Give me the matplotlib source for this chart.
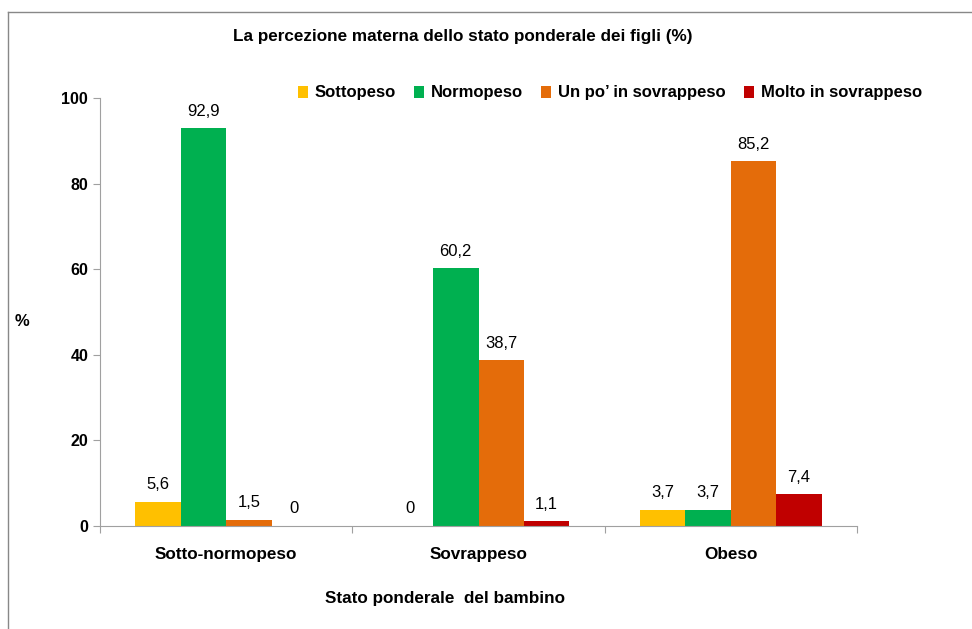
import numpy as np
import matplotlib.pyplot as plt
from matplotlib.lines import Line2D

plt.rcParams['font.family'] = ['Liberation Sans', 'DejaVu Sans']

categorie = ["Sotto-normopeso", "Sovrappeso", "Obeso"]
serie = ["Sottopeso", "Normopeso", "Un po\u2019 in sovrappeso", "Molto in sovrappeso"]
valori = [
    [5.6, 0, 3.7],
    [92.9, 60.2, 3.7],
    [1.5, 38.7, 85.2],
    [0, 1.1, 7.4],
]
colori = ["#FFC000", "#00B050", "#E46C0A", "#C00000"]

fig = plt.figure(figsize=(9.72, 6.29), dpi=100)
ax = fig.add_axes([100/972, 1-526/629, 757/972, 428/629])

x = np.arange(len(categorie))
w = 0.18
for i, (nome, vals, col) in enumerate(zip(serie, valori, colori)):
    pos = x + (i - 1.5) * w
    ax.bar(pos, vals, w, color=col, label=nome)
    for p, v in zip(pos, vals):
        testo = "0" if v == 0 else str(v).replace(".", ",")
        ax.annotate(testo, (p, v), xytext=(0, 7), textcoords="offset points",
                    ha="center", va="bottom", fontsize=12)

ax.set_xlim(-0.5, 2.5)
ax.set_ylim(0, 100)
ax.set_yticks(range(0, 101, 20))
ax.set_xticks([-0.5, 0.5, 1.5, 2.5], minor=False)
ax.set_xticklabels([])
ax.set_xticks(x, minor=True)
ax.set_xticklabels(categorie, minor=True, fontsize=12.3, fontweight="bold")
ax.tick_params(axis="x", which="minor", length=0, pad=15)
ax.tick_params(axis="x", which="major", length=5, color="#A0A0A0")
ax.tick_params(axis="y", length=5, color="#A0A0A0", labelsize=11.5)
for t in ax.get_yticklabels():
    t.set_fontweight("bold")
for s in ["top", "right"]:
    ax.spines[s].set_visible(False)
for s in ["left", "bottom"]:
    ax.spines[s].set_color("#A0A0A0")

fig.text(463/972, 1-37/629, "La percezione materna dello stato ponderale dei figli (%)",
         ha="center", va="center", fontsize=12.3, fontweight="bold")
fig.text(445/972, 1-598/629, "Stato ponderale  del bambino",
         ha="center", va="center", fontsize=12.3, fontweight="bold")
fig.text(22/972, 1-322/629, "%", ha="center", va="center", fontsize=12, fontweight="bold")

leg = fig.legend(loc="center left", bbox_to_anchor=(283/972, 1-93/629), ncol=4,
                 frameon=False, handlelength=0.6, handleheight=0.7, handletextpad=0.4,
                 columnspacing=1.1, prop={"size": 12, "weight": "bold"})

# cornice del grafico
fig.add_artist(Line2D([8/972, 8/972], [0, 1-12/629], color="#888888", lw=1))
fig.add_artist(Line2D([8/972, 1], [1-12/629, 1-12/629], color="#888888", lw=1))

plt.savefig("out.png", dpi=100)
